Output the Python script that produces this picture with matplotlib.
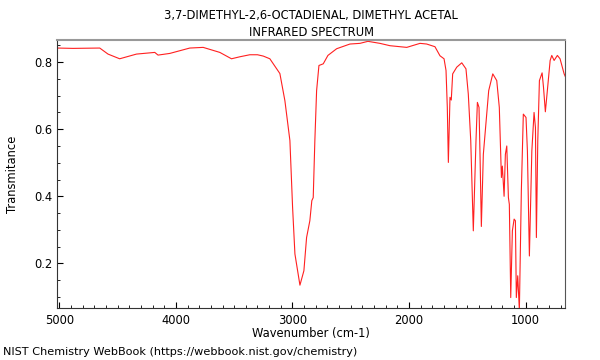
import numpy as np
import matplotlib
matplotlib.use("Agg")
from matplotlib import pyplot as plt
from matplotlib.ticker import MultipleLocator

# spectrum (wavenumber cm-1, transmittance)
wavenumber = [5017, 4882, 4653, 4582, 4482, 4338, 4181, 4153, 4052, 3881,
              3766, 3623, 3523, 3451, 3366, 3300, 3250, 3194, 3108, 3065,
              3022, 2999, 2979, 2936, 2902, 2879, 2851, 2834, 2822, 2808,
              2793, 2773, 2736, 2696, 2621, 2507, 2421, 2353, 2250, 2164,
              2020, 1906, 1849, 1778, 1735, 1700, 1683, 1672, 1663, 1649,
              1638, 1626, 1591, 1548, 1512, 1492, 1471, 1449, 1426, 1414,
              1400, 1391, 1380, 1363, 1334, 1317, 1282, 1248, 1226, 1208,
              1200, 1185, 1174, 1162, 1148, 1140, 1128, 1114, 1099, 1088,
              1080, 1068, 1054, 1037, 1020, 997, 985, 968, 947, 928,
              916, 908, 896, 882, 859, 847, 831, 814, 790, 776,
              756, 728, 705, 670, 660]
transmittance = [0.842, 0.841, 0.842, 0.824, 0.810, 0.824, 0.829, 0.821, 0.826, 0.842,
                 0.844, 0.829, 0.810, 0.816, 0.822, 0.822, 0.818, 0.810, 0.766, 0.685,
                 0.566, 0.367, 0.228, 0.135, 0.178, 0.277, 0.327, 0.387, 0.396, 0.566,
                 0.715, 0.790, 0.795, 0.820, 0.840, 0.854, 0.856, 0.862, 0.856, 0.849,
                 0.844, 0.856, 0.854, 0.846, 0.819, 0.810, 0.775, 0.665, 0.501, 0.695,
                 0.687, 0.765, 0.785, 0.798, 0.780, 0.705, 0.566, 0.297, 0.566, 0.680,
                 0.665, 0.516, 0.310, 0.525, 0.645, 0.715, 0.765, 0.745, 0.665, 0.456,
                 0.490, 0.400, 0.525, 0.550, 0.396, 0.376, 0.098, 0.297, 0.332, 0.327,
                 0.098, 0.163, 0.060, 0.416, 0.645, 0.635, 0.535, 0.222, 0.535, 0.650,
                 0.605, 0.277, 0.566, 0.745, 0.768, 0.725, 0.652, 0.715, 0.805, 0.820,
                 0.805, 0.820, 0.810, 0.765, 0.757]

title = "3,7-DIMETHYL-2,6-OCTADIENAL, DIMETHYL ACETAL\nINFRARED SPECTRUM"
xlabel = "Wavenumber (cm-1)"
ylabel = "Transmitance"
footer = "NIST Chemistry WebBook (https://webbook.nist.gov/chemistry)"

fs = 8.3
fig = plt.figure(figsize=(6, 3.6), dpi=100)
ax = fig.add_axes([57.3 / 600, 1 - 308.3 / 360, (565.3 - 57.3) / 600, (308.3 - 40) / 360])
ax.plot(wavenumber, transmittance, color="#ff2020", lw=0.8)

ax.set_xlim(5017, 660)
ax.set_ylim(0.066, 0.866)
ax.xaxis.set_major_locator(MultipleLocator(1000))
ax.xaxis.set_minor_locator(MultipleLocator(100))
ax.yaxis.set_major_locator(MultipleLocator(0.2))
ax.yaxis.set_minor_locator(MultipleLocator(0.05))
ax.tick_params(which="both", direction="in", labelsize=fs, colors="black")
ax.tick_params(which="major", length=4)
ax.tick_params(which="minor", length=2.5)
ax.tick_params(axis="x", pad=4)

ax.spines["top"].set_color("#999999")
ax.spines["top"].set_linewidth(1.5)
ax.spines["right"].set_color("#555555")
for s in ("left", "bottom"):
    ax.spines[s].set_color("#333333")

ax.set_title(title, fontsize=fs, pad=3, linespacing=1.4)
ax.set_xlabel(xlabel, fontsize=fs, labelpad=0)
ax.set_ylabel(ylabel, fontsize=fs, labelpad=11)
fig.text(3 / 600, 1 - 352 / 360, footer, fontsize=8.1, va="center", ha="left")

fig.savefig("out.png", dpi=100)
